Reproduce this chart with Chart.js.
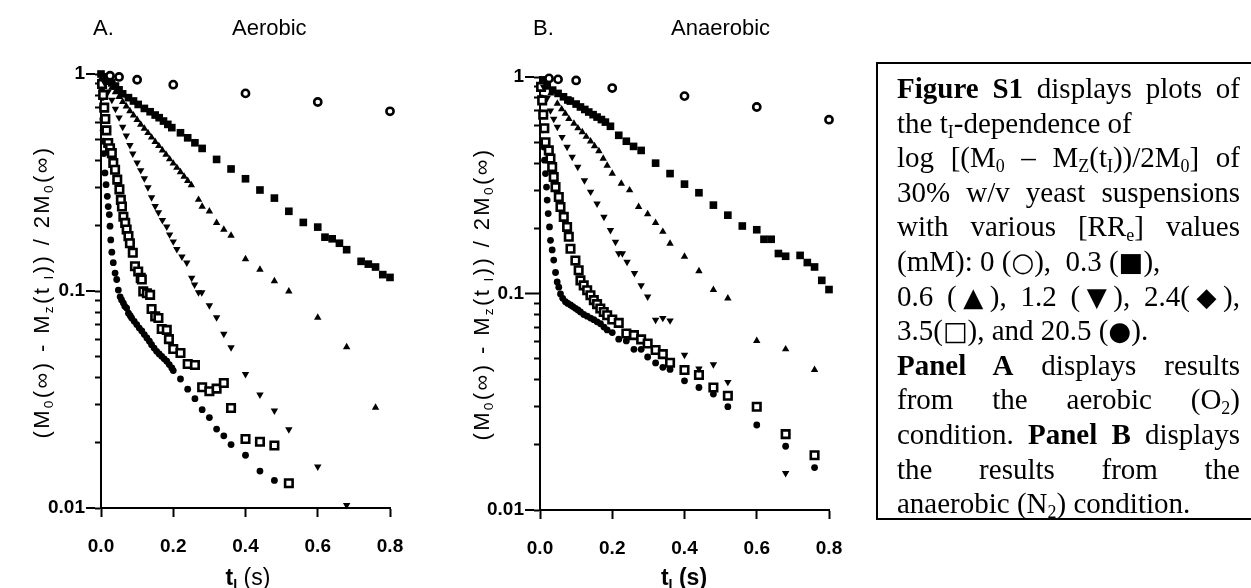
<!DOCTYPE html>
<html>
<head>
<meta charset="utf-8">
<script src="https://cdn.jsdelivr.net/npm/chart.js@4.4.0/dist/chart.umd.min.js"></script>
<style>
  body { margin: 0; width: 1251px; height: 588px; background: #fff; position: relative; overflow: hidden;
         font-family: "Liberation Sans", Arial, sans-serif; color: #000; }
  canvas { position: absolute; top: 0; }
  #chartA { left: 0; }
  #chartB { left: 440px; }
  .lbl { position: absolute; font-size: 22px; white-space: nowrap; line-height: 1; }
  .ytitle { position: absolute; width: 380px; text-align: center; font-size: 22px; letter-spacing: 2.4px;
            white-space: nowrap; line-height: 24px; transform: rotate(-90deg); transform-origin: 50% 50%; }
  .xtitle { position: absolute; width: 120px; text-align: center; font-size: 23px; white-space: nowrap; line-height: 1; }
  sub { font-size: 0.62em; vertical-align: -0.3em; line-height: 0; }
  .box { position: absolute; left: 876px; top: 62px; width: 400px; height: 458px; border: 2px solid #000;
         border-right: none; font-family: "Liberation Serif", "Times New Roman", serif; font-size: 29px;
         box-sizing: border-box; padding: 7px 0 0 19px; }
  .box div { width: 343px; line-height: 34.6px; height: 34.6px; white-space: nowrap; }
  .box .j { text-align: justify; text-align-last: justify; }
  .sym { font-family: "DejaVu Sans", sans-serif; font-size: 0.9em; line-height: 0; }
</style>
</head>
<body>
<canvas id="chartA" width="440" height="588"></canvas>
<canvas id="chartB" width="440" height="588"></canvas>

<div class="lbl" style="left:93px; top:17px;">A.</div>
<div class="lbl" style="left:232px; top:17px;">Aerobic</div>
<div class="lbl" style="left:533px; top:17px;">B.</div>
<div class="lbl" style="left:671px; top:17px;">Anaerobic</div>

<div class="ytitle" style="left:-148px; top:280px;">(M<sub>0</sub>(∞) - M<sub>z</sub>(t<sub> I</sub>)) / 2M<sub>0</sub>(∞)</div>
<div class="ytitle" style="left:292px; top:282px;">(M<sub>0</sub>(∞) - M<sub>z</sub>(t<sub> I</sub>)) / 2M<sub>0</sub>(∞)</div>

<div class="xtitle" style="left:188px; top:566px;"><b>t<sub>I</sub></b> (s)</div>
<div class="xtitle" style="left:624px; top:566px;"><b>t<sub>I</sub> (s)</b></div>

<div class="box">
  <div class="j"><b>Figure S1</b> displays plots of</div>
  <div>the t<sub>I</sub>-dependence of</div>
  <div class="j">log [(M<sub>0</sub> – M<sub>Z</sub>(t<sub>I</sub>))/2M<sub>0</sub>] of</div>
  <div class="j">30% w/v yeast suspensions</div>
  <div class="j">with various [RR<sub>e</sub>] values</div>
  <div>(mM): 0 (<span class="sym">○</span>), &nbsp;0.3 (<span class="sym">■</span>),</div>
  <div class="j">0.6 (<span class="sym">▲</span>), 1.2 (<span class="sym">▼</span>), 2.4(<span class="sym">◆</span>),</div>
  <div>3.5(<span class="sym">□</span>), and 20.5 (<span class="sym">●</span>).</div>
  <div class="j"><b>Panel A</b> displays results</div>
  <div class="j">from the aerobic (O<sub>2</sub>)</div>
  <div class="j">condition. <b>Panel B</b> displays</div>
  <div class="j">the results from the</div>
  <div>anaerobic (N<sub>2</sub>) condition.</div>
</div>

<script>
// ---- axis ticks ----
const xTicks = [0, 0.2, 0.4, 0.6, 0.8];
const yTicks = [0.01, 0.02, 0.03, 0.04, 0.05, 0.06, 0.07, 0.08, 0.09,
                0.1, 0.2, 0.3, 0.4, 0.5, 0.6, 0.7, 0.8, 0.9, 1];
const yMajor = [1, 0.1, 0.01];

// ---- Panel A: aerobic ----
const tA_00 = [0.025, 0.05, 0.1, 0.2, 0.4, 0.6, 0.8];
const vA_00 = [0.982, 0.969, 0.941, 0.893, 0.814, 0.743, 0.673];

const tA_03 = [0, 0.01, 0.02, 0.03, 0.04, 0.05, 0.06, 0.076, 0.09, 0.103, 0.12, 0.136, 0.15, 0.161, 0.173, 0.185, 0.196,
               0.22, 0.24, 0.26, 0.28, 0.32, 0.36, 0.40, 0.44, 0.48, 0.52, 0.56, 0.60, 0.62, 0.64, 0.66, 0.68,
               0.72, 0.74, 0.76, 0.78, 0.80];
const vA_03 = [1.0, 0.97, 0.94, 0.91, 0.88, 0.845, 0.81, 0.778, 0.751, 0.724, 0.694, 0.670, 0.647, 0.629, 0.607, 0.586, 0.566,
               0.536, 0.508, 0.482, 0.454, 0.404, 0.365, 0.329, 0.292, 0.268, 0.233, 0.207, 0.197, 0.177, 0.174, 0.166, 0.155,
               0.137, 0.133, 0.129, 0.119, 0.1155];

const tA_06 = [0.01, 0.02, 0.03, 0.04, 0.05, 0.06, 0.07, 0.08, 0.09, 0.10, 0.11, 0.12, 0.13, 0.14, 0.15, 0.16, 0.17,
               0.18, 0.19, 0.20, 0.21, 0.22, 0.23, 0.24, 0.25, 0.27, 0.28, 0.30, 0.32, 0.34, 0.36, 0.40, 0.44,
               0.48, 0.52, 0.60, 0.68, 0.76];
const vA_06 = [0.955, 0.91, 0.865, 0.825, 0.785, 0.745, 0.71, 0.675, 0.645, 0.615, 0.585, 0.56, 0.535, 0.51, 0.487, 0.466, 0.445,
               0.425, 0.405, 0.387, 0.37, 0.353, 0.337, 0.322, 0.308, 0.2635, 0.245, 0.233, 0.206, 0.192, 0.180, 0.1404, 0.1254,
               0.111, 0.0996, 0.0755, 0.0552, 0.029];

const tA_12 = [0.01, 0.02, 0.03, 0.04, 0.05, 0.06, 0.07, 0.08, 0.088, 0.10, 0.11, 0.12, 0.13, 0.14, 0.15, 0.159, 0.17,
               0.182, 0.19, 0.20, 0.21, 0.224, 0.2375, 0.251, 0.259, 0.27, 0.279, 0.30, 0.32, 0.34, 0.36, 0.40,
               0.44, 0.48, 0.52, 0.60, 0.68];
const vA_12 = [0.91, 0.83, 0.76, 0.69, 0.63, 0.57, 0.52, 0.47, 0.429, 0.39, 0.36, 0.33, 0.30, 0.27, 0.246, 0.23, 0.212,
               0.198, 0.182, 0.169, 0.156, 0.144, 0.135, 0.115, 0.107, 0.0986, 0.0986, 0.0858, 0.0755, 0.0634, 0.055, 0.0414,
               0.0333, 0.0281, 0.023, 0.0155, 0.0103];

const tA_35 = [0.003, 0.006, 0.009, 0.012, 0.015, 0.02, 0.025, 0.03, 0.034, 0.039, 0.045, 0.051, 0.055, 0.058, 0.062,
               0.067, 0.071, 0.076, 0.08, 0.088, 0.094, 0.103, 0.11, 0.113, 0.117, 0.127, 0.136, 0.14, 0.15, 0.159,
               0.168, 0.182, 0.188, 0.20, 0.22, 0.24, 0.26, 0.28, 0.30, 0.32, 0.34, 0.36, 0.40, 0.44, 0.48, 0.52];
const vA_35 = [0.9, 0.8, 0.7, 0.62, 0.55, 0.481, 0.455, 0.432, 0.389, 0.362, 0.326, 0.294, 0.263, 0.245, 0.22,
               0.206, 0.192, 0.179, 0.166, 0.15, 0.13, 0.123, 0.115, 0.113, 0.0996, 0.0976, 0.096, 0.0826, 0.0764, 0.0751,
               0.0668, 0.0662, 0.060, 0.054, 0.0518, 0.0461, 0.0456, 0.036, 0.0345, 0.0355, 0.0377, 0.0289, 0.0208, 0.0202,
               0.0194, 0.013];

const tA_205 = [0.001, 0.002, 0.003, 0.004, 0.005, 0.006, 0.007, 0.008, 0.011, 0.014, 0.0175, 0.02, 0.023, 0.025, 0.027,
                0.03, 0.034, 0.039, 0.0435, 0.048, 0.053, 0.057, 0.062, 0.066, 0.071, 0.076, 0.081, 0.085, 0.092, 0.099,
                0.106, 0.113, 0.12, 0.127, 0.134, 0.14, 0.147, 0.154, 0.161, 0.168, 0.175, 0.182, 0.189, 0.196, 0.2,
                0.22, 0.24, 0.26, 0.28, 0.30, 0.32, 0.34, 0.36, 0.40, 0.44, 0.48];
const vA_205 = [0.93, 0.86, 0.78, 0.70, 0.62, 0.55, 0.49, 0.43, 0.35, 0.309, 0.273, 0.245, 0.225, 0.199, 0.172,
                0.151, 0.135, 0.121, 0.113, 0.101, 0.094, 0.091, 0.088, 0.085, 0.0834, 0.079, 0.077, 0.075, 0.0725, 0.070,
                0.0675, 0.0654, 0.063, 0.0608, 0.0587, 0.0566, 0.0546, 0.0527, 0.0513, 0.050, 0.0487, 0.0475, 0.0458, 0.0442, 0.043,
                0.0393, 0.0353, 0.0319, 0.0284, 0.0261, 0.0231, 0.0215, 0.0196, 0.0175, 0.0148, 0.0134];

// ---- Panel B: anaerobic ----
const tB_00 = [0.025, 0.05, 0.1, 0.2, 0.4, 0.6, 0.8];
const vB_00 = [0.985, 0.975, 0.964, 0.889, 0.816, 0.727, 0.635];

const tB_03 = [0.01, 0.02, 0.035, 0.05, 0.065, 0.077, 0.084, 0.1, 0.112, 0.124, 0.135, 0.147, 0.158, 0.17, 0.181, 0.195,
               0.218, 0.239, 0.259, 0.28, 0.32, 0.36, 0.40, 0.44, 0.48, 0.52, 0.56, 0.60, 0.62, 0.64, 0.66, 0.68,
               0.72, 0.74, 0.76, 0.78, 0.80];
const vB_03 = [0.97, 0.91, 0.87, 0.84, 0.81, 0.783, 0.774, 0.75, 0.727, 0.708, 0.689, 0.67, 0.653, 0.636, 0.619, 0.592,
               0.538, 0.505, 0.478, 0.458, 0.40, 0.358, 0.32, 0.292, 0.256, 0.23, 0.205, 0.197, 0.178, 0.178, 0.153, 0.1486,
               0.150, 0.139, 0.1326, 0.115, 0.1043];

const tB_06 = [0.01, 0.02, 0.03, 0.048, 0.06, 0.07, 0.08, 0.094, 0.105, 0.117, 0.128, 0.14, 0.151, 0.163, 0.175, 0.186,
               0.20, 0.225, 0.248, 0.273, 0.298, 0.32, 0.34, 0.36, 0.40, 0.44, 0.48, 0.52, 0.60, 0.68, 0.76];
const vB_06 = [0.95, 0.90, 0.84, 0.753, 0.71, 0.677, 0.64, 0.609, 0.58, 0.557, 0.53, 0.505, 0.48, 0.455, 0.42, 0.39,
               0.358, 0.322, 0.30, 0.2513, 0.2326, 0.212, 0.193, 0.17, 0.148, 0.127, 0.104, 0.095, 0.0604, 0.0553, 0.0444];

const tB_12 = [0.01, 0.02, 0.029, 0.038, 0.048, 0.061, 0.075, 0.089, 0.1045, 0.123, 0.14, 0.158, 0.177, 0.195, 0.209,
               0.218, 0.228, 0.241, 0.2615, 0.28, 0.298, 0.32, 0.34, 0.36, 0.40, 0.44, 0.48, 0.52, 0.68];
const vB_12 = [0.90, 0.80, 0.70, 0.64, 0.588, 0.528, 0.475, 0.427, 0.384, 0.333, 0.295, 0.26, 0.226, 0.196, 0.173,
               0.153, 0.153, 0.14, 0.124, 0.109, 0.0967, 0.0755, 0.077, 0.075, 0.052, 0.045, 0.047, 0.039, 0.0148];

const tB_35 = [0.003, 0.006, 0.009, 0.012, 0.0152, 0.0244, 0.029, 0.0337, 0.038, 0.043, 0.052, 0.0567, 0.0658, 0.075,
               0.0797, 0.0844, 0.098, 0.107, 0.112, 0.121, 0.1306, 0.1397, 0.149, 0.158, 0.167, 0.1765, 0.186, 0.20,
               0.218, 0.239, 0.26, 0.28, 0.298, 0.32, 0.34, 0.36, 0.40, 0.44, 0.48, 0.52, 0.60, 0.68, 0.76];
const vB_35 = [0.9, 0.78, 0.67, 0.58, 0.50, 0.458, 0.42, 0.384, 0.345, 0.31, 0.279, 0.251, 0.226, 0.203,
               0.183, 0.161, 0.142, 0.128, 0.115, 0.109, 0.1035, 0.0982, 0.0932, 0.0893, 0.0853, 0.0822, 0.0794, 0.0759,
               0.0732, 0.0654, 0.0642, 0.0614, 0.0588, 0.0548, 0.0525, 0.0479, 0.0443, 0.042, 0.0368, 0.0337, 0.030, 0.0224, 0.0179];

const tB_205 = [0.002, 0.004, 0.006, 0.008, 0.0105, 0.0124, 0.0152, 0.018, 0.0199, 0.0227, 0.0263, 0.029, 0.0337, 0.038,
                0.043, 0.0476, 0.052, 0.0567, 0.063, 0.0705, 0.077, 0.0844, 0.091, 0.098, 0.105, 0.112, 0.121, 0.1306,
                0.14, 0.149, 0.158, 0.1674, 0.177, 0.186, 0.20, 0.218, 0.239, 0.26, 0.28, 0.298, 0.32, 0.34, 0.36,
                0.40, 0.44, 0.48, 0.52, 0.60, 0.68, 0.76];
const vB_205 = [0.9, 0.8, 0.68, 0.57, 0.475, 0.413, 0.358, 0.31, 0.27, 0.234, 0.203, 0.176, 0.159, 0.1427,
                0.125, 0.113, 0.107, 0.0995, 0.095, 0.0916, 0.09, 0.0885, 0.087, 0.0854, 0.084, 0.0822, 0.080, 0.0786,
                0.077, 0.0757, 0.074, 0.0725, 0.070, 0.0679, 0.066, 0.0615, 0.0604, 0.0552, 0.0552, 0.0509, 0.0478, 0.0456, 0.0446,
                0.0395, 0.0368, 0.0343, 0.030, 0.0247, 0.0197, 0.0157];

// ---- marker styles (one per [RRe] concentration) ----
const markers = {
  c00:  { pointStyle: 'circle',   pointRadius: 3.6, pointBorderWidth: 2.6, pointBackgroundColor: '#fff', pointBorderColor: '#000' },
  c03:  { pointStyle: 'rect',     pointRadius: 5.4, pointBorderWidth: 0,   pointBackgroundColor: '#000', pointBorderColor: '#000' },
  c06:  { pointStyle: 'triangle', pointRadius: 4.3, pointBorderWidth: 0,   pointBackgroundColor: '#000', pointBorderColor: '#000' },
  c12:  { pointStyle: 'triangle', pointRadius: 4.3, pointBorderWidth: 0,   pointBackgroundColor: '#000', pointBorderColor: '#000', pointRotation: 180 },
  c35:  { pointStyle: 'rect',     pointRadius: 5.3, pointBorderWidth: 2.6, pointBackgroundColor: '#fff', pointBorderColor: '#000' },
  c205: { pointStyle: 'circle',   pointRadius: 3.4, pointBorderWidth: 0,   pointBackgroundColor: '#000', pointBorderColor: '#000' }
};

function pts(t, v) {
  return t.map((x, i) => ({ x: x, y: v[i] }));
}

// longer tick marks at 1, 0.1, 0.01
const majorTicks = {
  id: 'majorTicks',
  afterDraw(chart) {
    const y = chart.scales.y;
    const ctx = chart.ctx;
    ctx.save();
    ctx.strokeStyle = '#000';
    ctx.lineWidth = 2;
    yMajor.forEach(v => {
      const py = y.getPixelForValue(v);
      ctx.beginPath();
      ctx.moveTo(y.right - 15, py);
      ctx.lineTo(y.right - 6, py);
      ctx.stroke();
    });
    ctx.restore();
  }
};

const tickFont = { family: 'Liberation Sans', size: 19, weight: 'bold' };

function makeChart(id, series, yW, xH, padTop, padRight) {
  new Chart(document.getElementById(id), {
    type: 'scatter',
    data: {
      datasets: series.map(s => Object.assign({ data: pts(s[0], s[1]), showLine: false, clip: false }, markers[s[2]]))
    },
    options: {
      responsive: false,
      animation: false,
      events: [],
      layout: { autoPadding: false, padding: { top: padTop, right: padRight, left: 0, bottom: 0 } },
      plugins: { legend: { display: false }, tooltip: { enabled: false } },
      scales: {
        x: {
          type: 'linear', min: 0, max: 0.8,
          afterFit(s) { s.height = xH; },
          afterBuildTicks(s) { s.ticks = xTicks.map(v => ({ value: v })); },
          border: { display: true, color: '#000', width: 2 },
          grid: { drawOnChartArea: false, drawTicks: true, tickLength: 9, tickWidth: 2, tickColor: '#000' },
          ticks: { color: '#000', font: tickFont, padding: 18, maxRotation: 0, autoSkip: false,
                   callback: v => Number(v).toFixed(1) }
        },
        y: {
          type: 'logarithmic', min: 0.01, max: 1,
          afterFit(s) { s.width = yW; },
          afterBuildTicks(s) { s.ticks = yTicks.map(v => ({ value: v })); },
          border: { display: true, color: '#000', width: 2 },
          grid: { drawOnChartArea: false, drawTicks: true, tickLength: 6, tickWidth: 2, tickColor: '#000' },
          ticks: { color: '#000', font: tickFont, padding: 10, autoSkip: false,
                   callback: v => yMajor.includes(v) ? String(v) : '' }
        }
      }
    },
    plugins: [majorTicks]
  });
}

makeChart('chartA', [
  [tA_00, vA_00, 'c00'], [tA_03, vA_03, 'c03'], [tA_06, vA_06, 'c06'],
  [tA_12, vA_12, 'c12'], [tA_35, vA_35, 'c35'], [tA_205, vA_205, 'c205']
], 101, 80, 74, 50);

makeChart('chartB', [
  [tB_00, vB_00, 'c00'], [tB_03, vB_03, 'c03'], [tB_06, vB_06, 'c06'],
  [tB_12, vB_12, 'c12'], [tB_35, vB_35, 'c35'], [tB_205, vB_205, 'c205']
], 100, 78, 77, 51);
</script>
</body>
</html>
